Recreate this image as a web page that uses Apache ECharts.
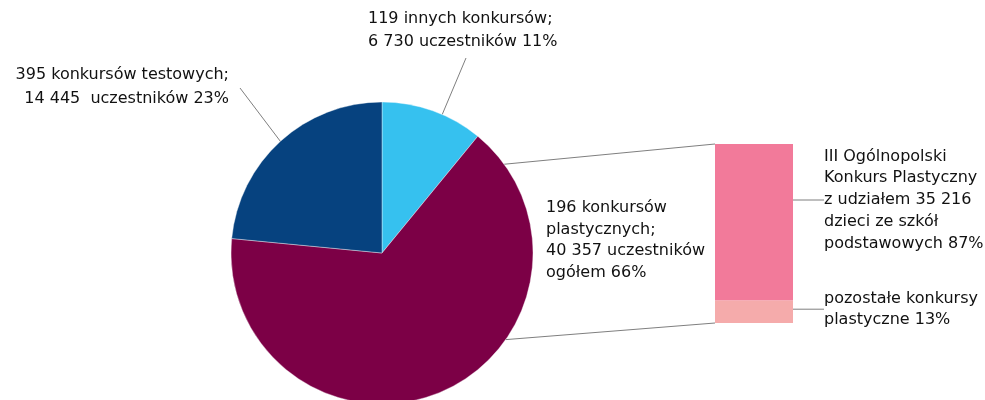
<!DOCTYPE html>
<html><head><meta charset="utf-8">
<script src="https://cdn.jsdelivr.net/npm/echarts@6/dist/echarts.min.js"></script>
<style>html,body{margin:0;padding:0;background:#fff}#c{width:985px;height:400px}</style>
</head><body><div id="c"></div>
<script>
// ---- data ----
const pieLabels = [
  '119 innych konkursów;\n6 730 uczestników 11%',
  '196 konkursów\nplastycznych;\n40 357 uczestników\nogółem 66%',
  '395 konkursów testowych;\n14 445  uczestników 23%'
];
const pieValues = [6730, 40357, 14445];
const pieColors = ['#36C1EF', '#7C0046', '#06427F'];

const barCategory = ['konkursy plastyczne'];
const barLabels = [
  'pozostałe konkursy\nplastyczne 13%',
  'III Ogólnopolski\nKonkurs Plastyczny\nz udziałem 35 216\ndzieci ze szkół\npodstawowych 87%'
];
const barValues = [5141, 35216];
const barColors = ['#F5ABAB', '#F27A9A'];

// ---- layout ----
const PIE_C = [382, 253], PIE_R = 151;
const GRID = {left: 715, top: 144, width: 78, height: 179};
const TXT = {fontFamily: 'DejaVu Sans', fontSize: 16, color: '#111'};
const LINE = '#7f7f7f';

function edge(deg) {
  const a = deg * Math.PI / 180;
  return [PIE_C[0] + PIE_R * Math.sin(a), PIE_C[1] - PIE_R * Math.cos(a)];
}
const pieLabelPos = [
  {x: 368, y: 7, align: 'left', lh: 23.5, line: [23.5, [466, 58]]},
  {x: 546, y: 197, align: 'left', lh: 21.7},
  {x: 229, y: 63.5, align: 'right', lh: 23.5, line: [317.7, [240, 88]]}
];

const chart = echarts.init(document.getElementById('c'), null, {renderer: 'canvas'});
const total = barValues.reduce((a, b) => a + b, 0);

const series = [{
  type: 'pie',
  center: PIE_C,
  radius: PIE_R,
  startAngle: 90,
  clockwise: true,
  avoidLabelOverlap: false,
  animation: false,
  itemStyle: {borderColor: 'rgba(255,255,255,0.55)', borderWidth: 0.7},
  label: Object.assign({show: true, position: 'outside', formatter: '{b}'}, TXT),
  labelLine: {show: true, length: 20, length2: 0, lineStyle: {color: LINE, width: 1}},
  labelLayout: function (p) {
    const L = pieLabelPos[p.dataIndex];
    const o = {x: L.x, y: L.y, align: L.align, verticalAlign: 'top'};
    if (L.line) o.labelLinePoints = [edge(L.line[0]), L.line[1]];
    return o;
  },
  data: pieValues.map((v, i) => {
    const L = pieLabelPos[i];
    return {
      value: v, name: pieLabels[i],
      itemStyle: {color: pieColors[i]},
      label: {align: L.align, lineHeight: L.lh},
      labelLine: {show: !!L.line}
    };
  })
}];

barValues.forEach((v, i) => {
  series.push({
    type: 'bar',
    name: barLabels[i],
    stack: 'plast',
    barWidth: '100%',
    animation: false,
    itemStyle: {color: barColors[i]},
    label: Object.assign({show: true, position: 'right', formatter: '{a}', lineHeight: i === 1 ? 21.7 : 20.5, align: 'left'}, TXT),
    labelLine: {show: true, lineStyle: {color: LINE, width: 1}},
    labelLayout: function (p) {
      const r = p.rect;
      const y = i === 1 ? r.y + 56 : r.y + 9;
      const xr = r.x + r.width;
      return {x: xr + 31, y: y, align: 'left', verticalAlign: 'middle',
              labelLinePoints: [[xr, y], [xr + 21, y]]};
    },
    data: [v]
  });
});

chart.setOption({
  backgroundColor: '#fff',
  grid: {left: GRID.left, top: GRID.top, width: GRID.width, height: GRID.height, containLabel: false},
  xAxis: {type: 'category', data: barCategory, show: false},
  yAxis: {type: 'value', min: 0, max: total, show: false},
  series: series
});

// connector lines between the pie and the bar
const topPt = chart.convertToPixel({gridIndex: 0}, [0, total]);
const botPt = chart.convertToPixel({gridIndex: 0}, [0, 0]);
const barLeft = topPt[0] - GRID.width / 2;
const p1 = edge(54), p2 = edge(125);
chart.setOption({
  graphic: [
    {type: 'line', shape: {x1: p1[0], y1: p1[1], x2: barLeft, y2: topPt[1]}, style: {stroke: LINE, lineWidth: 1}, z: 1},
    {type: 'line', shape: {x1: p2[0], y1: p2[1], x2: barLeft, y2: botPt[1]}, style: {stroke: LINE, lineWidth: 1}, z: 1}
  ]
});
</script></body></html>
